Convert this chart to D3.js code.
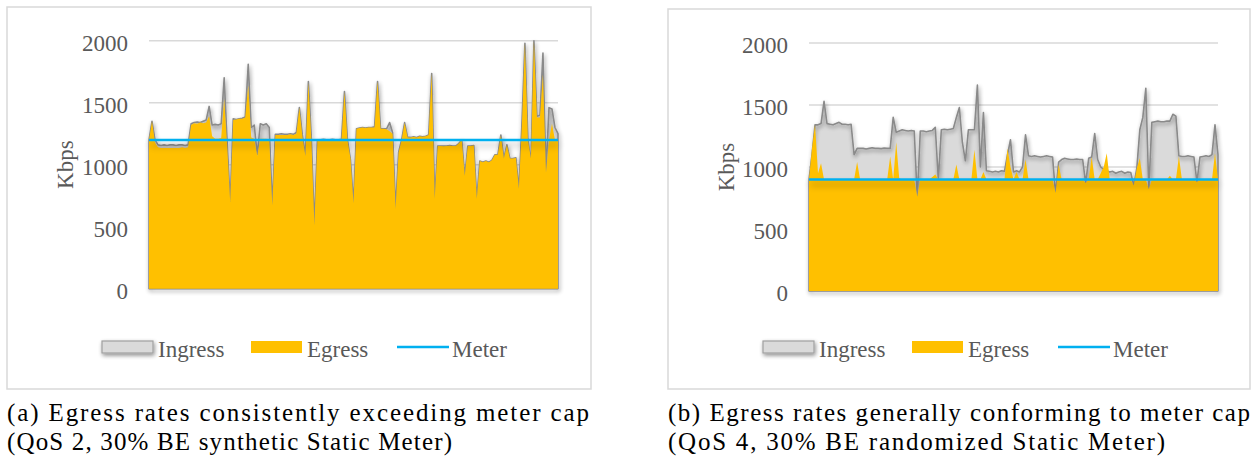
<!DOCTYPE html>
<meta charset="utf-8">
<html>
<style>
body { margin: 0; background: #fff; }
svg text { font-family: "Liberation Serif", serif; }
</style>
<svg width="1252" height="464"></svg>
<script src="https://d3js.org/d3.v7.min.js"></script>
<script>
var yTicks = [0, 500, 1000, 1500, 2000];
var legendNames = ["Ingress", "Egress", "Meter"];
var yLabel = "Kbps";

// (a) QoS 2, 30% BE synthetic, one sample per step
var ingressA = [1200,1350,1200,1160,1155,1160,1155,1160,1160,1155,1160,1160,1155,1160,1330,1340,1345,1340,1350,1360,
  1470,1320,1325,1320,1330,1700,1180,690,1370,1365,1370,1375,1385,1810,1300,1320,1080,1330,1320,1330,
  1300,660,1245,1245,1250,1245,1245,1250,1245,1260,1460,1240,1070,1670,1210,500,1200,1200,1205,1200,
  1200,1205,1200,1200,1205,1590,1200,1040,680,1290,1295,1300,1295,1300,1300,1305,1670,1290,1290,1290,
  1340,1260,640,1100,1200,1340,1220,1220,1225,1220,1230,1225,1230,1240,1735,720,1150,1150,1150,1150,
  1155,1150,1150,1170,1200,905,1150,1150,1155,720,1030,1020,1030,1020,1035,1080,1080,1240,1050,1160,
  1050,1050,1055,800,1330,1980,1210,1000,2000,1390,1400,1900,940,1460,1450,1300,1250];
var egressA = [1200,1350,1180,1140,1135,1135,1135,1135,1135,1135,1135,1140,1135,1140,1320,1335,1330,1340,1335,1340,
  1390,1230,1210,1210,1215,1530,1150,700,1360,1365,1370,1370,1380,1640,1220,1210,1070,1210,1210,1210,
  1200,670,1240,1240,1240,1240,1240,1245,1240,1250,1460,1230,1070,1660,1200,510,1195,1195,1200,1195,
  1195,1200,1195,1195,1200,1585,1200,1050,690,1290,1295,1300,1295,1300,1300,1300,1670,1290,1290,1285,
  1270,1250,645,1100,1200,1336,1220,1220,1225,1220,1230,1225,1230,1240,1734,725,1150,1150,1148,1150,
  1152,1150,1150,1170,1200,911,1150,1150,1155,725,1030,1020,1030,1020,1035,1080,1080,1236,1050,1160,
  1050,1050,1055,806,1320,1976,1200,1050,1995,1380,1380,1730,935,1200,1330,1200,1200];
var meterA = 1200;
var captionA = ["(a) Egress rates consistently exceeding meter cap", "(QoS 2, 30% BE synthetic Static Meter)"];

// (b) QoS 4, 30% BE randomized
var ingressB = [900,1100,1340,1340,1350,1530,1350,1345,1340,1350,1360,1345,1345,1340,1345,1100,1150,1150,1150,1145,
  1150,1155,1150,1150,1148,1152,1150,1150,1400,1280,1290,1300,1295,1290,1295,1290,750,1290,1290,1285,
  1290,1295,1320,900,1300,1305,1300,1305,1310,1400,1480,1200,1050,1300,1300,1300,1660,1000,1440,970,
  965,960,965,960,970,965,1100,1220,960,970,960,1000,1260,1090,1085,1090,1085,1080,1085,1090,
  1085,1080,780,1040,1060,1070,1065,1060,1060,1065,1060,1060,870,1070,1080,1270,1060,1000,980,970,
  960,965,950,960,965,950,960,955,850,990,1300,1400,1635,820,1360,1365,1370,1365,1365,1370,
  1370,1425,1410,1090,1085,1085,1090,1085,1080,880,1080,1085,1090,1085,1100,1340,1100];
var egressB = [900,1150,1340,950,1030,900,900,900,900,900,900,900,900,900,900,900,1040,900,900,900,
  900,900,900,900,900,900,900,1085,900,1200,910,900,900,900,900,900,760,900,900,900,
  900,920,940,900,900,900,900,900,900,1020,900,900,900,900,900,1140,900,900,960,900,
  900,900,900,900,900,900,1150,1000,900,960,900,900,1060,900,900,900,900,900,900,900,
  900,900,790,1020,900,900,900,900,900,900,900,900,870,900,1080,900,900,950,1000,1110,
  900,900,900,900,900,900,900,900,850,990,1070,900,900,820,900,900,900,900,900,900,
  930,900,900,1085,900,900,900,900,900,880,900,900,900,900,900,1110,900];
var meterB = 900;
var captionB = ["(b) Egress rates generally conforming to meter cap", "(QoS 4, 30% BE randomized Static Meter)"];

var panels = [
  {ingress: ingressA, egress: egressA, meter: meterA, caption: captionA,
   box: [7, 7, 584, 382], plot: [149, 558, 40.7, 288.7], capW: [582, 445]},
  {ingress: ingressB, egress: egressB, meter: meterB, caption: captionB,
   box: [668, 9, 582, 380], plot: [809, 1218, 43, 291], capW: [582, 497]}
];

var serif = '"Liberation Serif", serif';
var svg = d3.select("svg");
var defs = svg.append("defs");

// soft Excel-like shadow, in page units so flat lines keep it
function shadow(id, blur, dy, alpha) {
  var f = defs.append("filter").attr("id", id)
      .attr("filterUnits", "userSpaceOnUse")
      .attr("x", 0).attr("y", 0).attr("width", 1252).attr("height", 464);
  f.append("feGaussianBlur").attr("in", "SourceAlpha").attr("stdDeviation", blur);
  f.append("feOffset").attr("dx", 1).attr("dy", dy).attr("result", "off");
  f.append("feComponentTransfer").append("feFuncA").attr("type", "linear").attr("slope", alpha);
  var m = f.append("feMerge");
  m.append("feMergeNode");
  m.append("feMergeNode").attr("in", "SourceGraphic");
}
shadow("lineShadow", 2, 2, 0.45);
shadow("meterShadow", 3.5, 5, 0.3);

panels.forEach(function(p) {
  var g = svg.append("g");
  var n = p.ingress.length;

  var x = d3.scaleLinear().domain([0, n - 1]).range([p.plot[0], p.plot[1]]);
  var y = d3.scaleLinear().domain([0, 2000]).range([p.plot[3], p.plot[2]]);

  // outer frame
  g.append("rect")
      .attr("x", p.box[0]).attr("y", p.box[1])
      .attr("width", p.box[2]).attr("height", p.box[3])
      .attr("fill", "none").attr("stroke", "#d9d9d9").attr("stroke-width", 1.5);

  // gridlines
  g.append("g").selectAll("line")
    .data(yTicks)
    .enter().append("line")
      .attr("x1", p.plot[0]).attr("x2", p.plot[1])
      .attr("y1", function(d) { return y(d); })
      .attr("y2", function(d) { return y(d); })
      .attr("stroke", "#d9d9d9").attr("stroke-width", 1.5);

  var axis = g.append("g")
      .attr("transform", "translate(" + p.plot[0] + ",0)")
      .call(d3.axisLeft(y).tickValues(yTicks).tickFormat(d3.format("d")).tickSize(0).tickPadding(21));
  axis.select(".domain").remove();
  axis.selectAll(".tick text")
      .attr("dy", "0.42em")
      .attr("fill", "#595959")
      .style("font-family", serif).style("font-size", "23px");

  g.append("text")
      .attr("transform", "translate(" + (p.box[0] + 66) + "," + ((p.plot[2] + p.plot[3]) / 2) + ") rotate(-90)")
      .attr("text-anchor", "middle")
      .attr("fill", "#595959")
      .style("font-family", serif).style("font-size", "23px")
      .text(yLabel);

  var area = d3.area()
      .x(function(d, i) { return x(i); })
      .y0(y(0))
      .y1(function(d) { return y(d); });

  // ingress: light fill, grey outline with shadow
  g.append("path").datum(p.ingress)
      .attr("d", area)
      .attr("fill", "#dadada");
  g.append("path").datum(p.ingress)
      .attr("d", area)
      .attr("fill", "none")
      .attr("stroke", "#8a8a8a").attr("stroke-width", 1.6)
      .attr("stroke-linejoin", "round")
      .attr("filter", "url(#lineShadow)");

  // egress on top
  g.append("path").datum(p.egress)
      .attr("d", area)
      .attr("fill", "#ffc000");

  // meter cap
  g.append("line")
      .attr("x1", p.plot[0]).attr("x2", p.plot[1])
      .attr("y1", y(p.meter)).attr("y2", y(p.meter))
      .attr("stroke", "#00b0f0").attr("stroke-width", 2.5)
      .attr("filter", "url(#meterShadow)");

  // legend
  var lg = g.append("g");
  var bx = p.box[0];
  lg.append("rect")
      .attr("x", bx + 95).attr("y", 341).attr("width", 51).attr("height", 12)
      .attr("fill", "#dadada").attr("stroke", "#a0a0a0").attr("stroke-width", 1.2)
      .attr("filter", "url(#lineShadow)");
  lg.append("rect")
      .attr("x", bx + 244).attr("y", 341).attr("width", 51).attr("height", 12)
      .attr("fill", "#ffc000");
  lg.append("line")
      .attr("x1", bx + 390).attr("x2", bx + 442).attr("y1", 347).attr("y2", 347)
      .attr("stroke", "#00b0f0").attr("stroke-width", 2.5);
  lg.selectAll("text")
    .data(legendNames)
    .enter().append("text")
      .attr("x", function(d, i) { return bx + [151, 300, 445][i]; })
      .attr("y", 357)
      .attr("fill", "#595959")
      .style("font-family", serif).style("font-size", "23px")
      .text(function(d) { return d; });

  // caption under the frame
  g.selectAll(".caption")
    .data(p.caption)
    .enter().append("text")
      .attr("class", "caption")
      .attr("x", p.box[0])
      .attr("y", function(d, i) { return 421 + i * 29; })
      .attr("textLength", function(d, i) { return p.capW[i]; })
      .attr("lengthAdjust", "spacing")
      .attr("fill", "#000")
      .style("font-family", serif).style("font-size", "25px")
      .text(function(d) { return d; });
});
</script>
</html>
